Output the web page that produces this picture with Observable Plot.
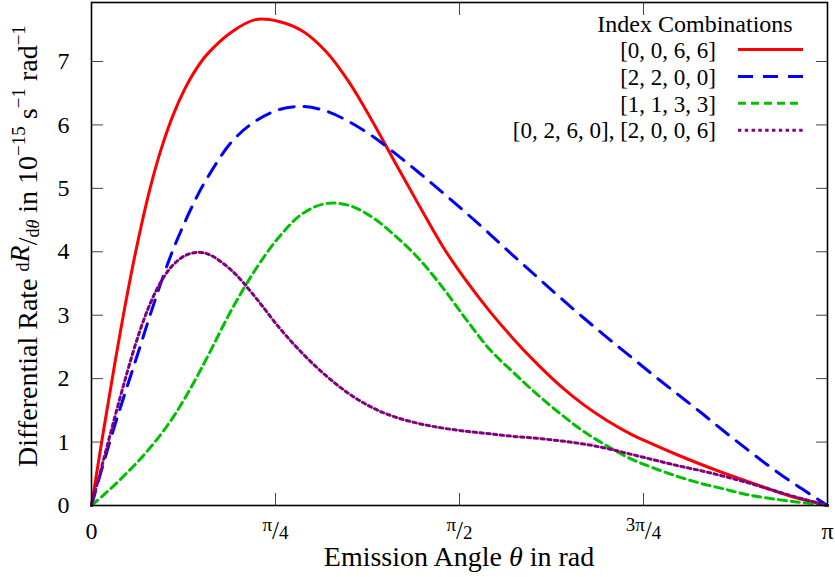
<!DOCTYPE html>
<html><head><meta charset="utf-8">
<script src="https://cdn.jsdelivr.net/npm/d3@7"></script>
<script src="https://cdn.jsdelivr.net/npm/@observablehq/plot@0.6"></script>
<style>
html,body{margin:0;padding:0;background:#fff;}
#chart svg{display:block;}
#chart svg, #chart svg text{font-family:'Liberation Serif','Times New Roman','DejaVu Serif',serif;}
</style>
</head><body><div id="chart"></div>
<script>
// ---- data ----
const theta = [0, 0.05, 0.1, 0.15, 0.2, 0.25, 0.3, 0.35, 0.4, 0.45, 0.5, 0.6, 0.7, 0.8, 0.9, 1.0, 1.1, 1.2, 1.3, 1.4, 1.5, 1.6, 1.7, 1.8, 1.9, 2.0, 2.1, 2.2, 2.3, 2.4, 2.5, 2.6, 2.7, 2.8, 2.9, 3.0, 3.1, Math.PI];
const rate0066 = [0, 1.15, 2.25, 3.28, 4.2, 5.0, 5.65, 6.17, 6.58, 6.9, 7.14, 7.47, 7.66, 7.63, 7.48, 7.16, 6.67, 6.05, 5.38, 4.72, 4.08, 3.54, 3.06, 2.63, 2.24, 1.89, 1.59, 1.34, 1.13, 0.96, 0.8, 0.65, 0.51, 0.38, 0.25, 0.13, 0.04, 0];
const rate2200 = [0, 0.65, 1.27, 1.85, 2.42, 3.0, 3.55, 4.05, 4.48, 4.87, 5.2, 5.74, 6.06, 6.24, 6.29, 6.22, 6.05, 5.82, 5.54, 5.24, 4.93, 4.61, 4.28, 3.94, 3.61, 3.28, 2.96, 2.65, 2.35, 2.05, 1.76, 1.47, 1.17, 0.88, 0.6, 0.34, 0.1, 0];
const rate1133 = [0, 0.16, 0.33, 0.51, 0.7, 0.91, 1.14, 1.4, 1.7, 2.03, 2.38, 3.1, 3.72, 4.23, 4.6, 4.76, 4.73, 4.54, 4.24, 3.88, 3.43, 2.93, 2.46, 2.1, 1.76, 1.45, 1.17, 0.94, 0.74, 0.59, 0.46, 0.35, 0.26, 0.17, 0.11, 0.06, 0.02, 0];
const rate0260 = [0, 0.7, 1.4, 2.07, 2.68, 3.18, 3.55, 3.8, 3.94, 3.99, 3.96, 3.7, 3.28, 2.81, 2.4, 2.05, 1.76, 1.54, 1.39, 1.29, 1.22, 1.17, 1.13, 1.09, 1.06, 1.02, 0.97, 0.9, 0.81, 0.72, 0.63, 0.55, 0.46, 0.36, 0.25, 0.14, 0.04, 0];

const seriesNames = ["[0, 0, 6, 6]", "[2, 2, 0, 0]", "[1, 1, 3, 3]", "[0, 2, 6, 0], [2, 0, 0, 6]"];
const seriesValues = [rate0066, rate2200, rate1133, rate0260];
const seriesColors = ["#ff0000", "#0000ff", "#00c000", "#800080"];
const seriesDash = [null, "15,10", "8,5", "3.4,3.4"];

const yTicks = [0, 1, 2, 3, 4, 5, 6, 7];
const xTicks = [0, Math.PI / 4, Math.PI / 2, 3 * Math.PI / 4, Math.PI];
const xTickLabels = ["0", "π/4", "π/2", "3π/4", "π"];
const legendTitle = "Index Combinations";

// ---- build ----
const W = 835, H = 577;
const FONT = "'Liberation Serif', 'Times New Roman', 'DejaVu Serif', serif";

const lineMarks = seriesValues.map((vals, i) => {
  const data = theta.map((t, j) => ({theta: t, value: vals[j]}));
  const opts = {x: "theta", y: "value", stroke: seriesColors[i], strokeWidth: 3, curve: "catmull-rom"};
  if (seriesDash[i]) opts.strokeDasharray = seriesDash[i];
  return Plot.line(data, opts);
});

const chart = Plot.plot({
  width: W, height: H,
  marginLeft: 91, marginRight: 8, marginTop: 2, marginBottom: 72,
  style: {fontFamily: FONT, fontSize: "24px", color: "#000", background: "#fff"},
  x: {domain: [0, Math.PI]},
  y: {domain: [0, 7.93]},
  marks: [
    Plot.axisY(yTicks, {anchor: "left", tickSize: -12, tickFormat: () => "", stroke: "#444", label: null}),
    Plot.axisY(yTicks, {anchor: "right", tickSize: -12, tickFormat: () => "", stroke: "#444", label: null}),
    Plot.axisY(yTicks, {anchor: "left", tickSize: 0, tickPadding: 22, fontSize: 24, label: null, tickFormat: d => String(d)}),
    Plot.axisX(xTicks, {anchor: "bottom", tickSize: -12, tickFormat: () => "", stroke: "#444", label: null}),
    Plot.axisX(xTicks, {anchor: "top", tickSize: -12, tickFormat: () => "", stroke: "#444", label: null}),
    Plot.axisX(xTicks, {anchor: "bottom", tickSize: 0, tickPadding: 16, fontSize: 24, label: null,
      tickFormat: d => xTickLabels[xTicks.findIndex(v => Math.abs(v - d) < 1e-9)]}),
    ...lineMarks,
    Plot.frame({stroke: "#000", strokeWidth: 1.6})
  ]
});

document.getElementById("chart").appendChild(chart);
const svg = d3.select(chart);

// fraction-style x tick labels
svg.selectAll('g[aria-label="x-axis tick label"] text').each(function () {
  const s = this.textContent;
  if (!s.includes("/")) return;
  const [num, den] = s.split("/");
  const t = d3.select(this);
  t.text(null);
  t.append("tspan").attr("font-size", 19).attr("dy", -8).text(num);
  t.append("tspan").attr("font-size", 25).attr("dy", 8).text("/");
  t.append("tspan").attr("font-size", 19).text(den);
});

// x axis label
const xl = svg.append("text").attr("x", 459).attr("y", 566)
  .attr("text-anchor", "middle").attr("font-family", FONT).attr("font-size", 28).attr("fill", "#000");
xl.append("tspan").text("Emission Angle ");
xl.append("tspan").attr("font-style", "italic").text("θ");
xl.append("tspan").text(" in rad");

// y axis label
const yl = svg.append("text").attr("transform", "translate(37,246) rotate(-90)")
  .attr("text-anchor", "middle").attr("font-family", FONT).attr("font-size", 28).attr("fill", "#000");
yl.append("tspan").text("Differential Rate ");
yl.append("tspan").attr("font-size", 18).attr("dy", -8).text("d");
yl.append("tspan").attr("font-style", "italic").attr("dy", 0).text("R");
yl.append("tspan").attr("dy", 8).text("/");
yl.append("tspan").attr("font-size", 18).attr("dy", 2).text("d");
yl.append("tspan").attr("font-size", 18).attr("font-style", "italic").text("θ");
yl.append("tspan").attr("dy", -2).text(" in 10");
yl.append("tspan").attr("font-size", 19).attr("dy", -12).text("−15");
yl.append("tspan").attr("dy", 12).text(" s");
yl.append("tspan").attr("font-size", 19).attr("dy", -12).text("−1");
yl.append("tspan").attr("dy", 12).text(" rad");
yl.append("tspan").attr("font-size", 19).attr("dy", -12).text("−1");

// legend
const lg = svg.append("g").attr("font-family", FONT).attr("fill", "#000");
lg.append("text").attr("x", 695).attr("y", 32).attr("font-size", 24).attr("text-anchor", "middle").text(legendTitle);
seriesNames.forEach((name, i) => {
  const y = 49.5 + i * 26.9;
  lg.append("text").attr("x", 716).attr("y", y + 8.2).attr("font-size", 23).attr("text-anchor", "end").text(name);
  const ln = lg.append("line").attr("x1", 738).attr("x2", 803).attr("y1", y).attr("y2", y)
    .attr("stroke", seriesColors[i]).attr("stroke-width", 3);
  if (seriesDash[i]) ln.attr("stroke-dasharray", seriesDash[i]);
});
</script>
</body></html>
